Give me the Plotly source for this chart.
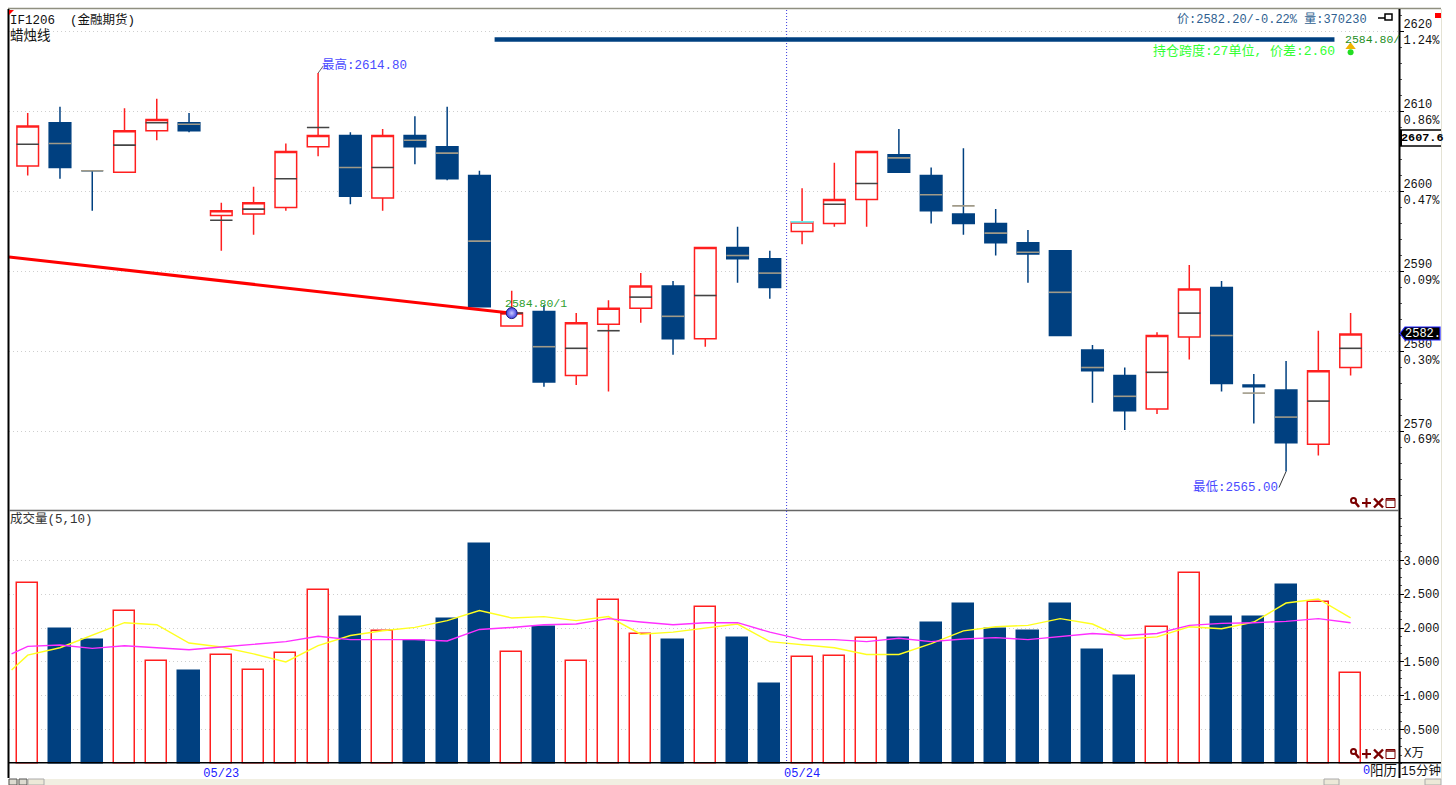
import plotly.graph_objects as go

idx = list(range(42))
opens = [2603.2,2608.6,2602.6,2602.4,2607.6,2608.6,2597.0,2597.2,2598.0,2605.6,2607.0,2599.2,2607.0,2605.6,2602.0,2583.2,2585.0,2577.0,2583.4,2585.4,2588.2,2581.6,2593.0,2591.6,2595.0,2596.0,2599.0,2604.6,2602.0,2597.2,2596.0,2593.6,2592.6,2580.2,2577.0,2572.8,2581.8,2588.0,2575.8,2575.2,2568.4,2578.0]
highs = [2609.8,2610.6,2602.6,2610.4,2611.6,2609.8,2598.6,2600.6,2606.0,2614.8,2607.4,2607.8,2609.4,2610.6,2602.6,2587.6,2585.8,2584.8,2586.4,2589.8,2588.8,2593.0,2595.6,2592.6,2600.4,2603.6,2605.0,2607.8,2603.0,2605.4,2597.8,2595.2,2592.6,2580.8,2578.0,2582.4,2590.8,2588.8,2577.2,2578.8,2582.6,2584.8]
lows = [2602.0,2601.6,2597.6,2602.4,2606.4,2607.4,2592.6,2594.6,2597.6,2604.4,2598.4,2597.6,2603.4,2601.4,2585.6,2583.2,2575.6,2575.8,2575.0,2583.6,2579.6,2580.6,2588.6,2586.6,2593.4,2595.6,2595.6,2602.4,2596.0,2594.6,2592.0,2588.6,2582.0,2573.6,2570.2,2572.2,2579.0,2575.0,2571.0,2565.0,2567.0,2577.0]
closes = [2608.2,2603.0,2602.6,2607.6,2609.0,2607.6,2597.6,2598.6,2605.0,2607.0,2599.4,2607.0,2605.6,2601.6,2585.6,2584.8,2576.2,2583.6,2585.4,2588.2,2581.6,2593.0,2591.6,2588.0,2596.2,2599.0,2605.0,2602.4,2597.6,2596.0,2593.6,2592.2,2582.0,2577.6,2572.6,2582.0,2587.8,2576.0,2575.6,2568.6,2577.6,2582.2]
mids = [2605.9,2606.0,2602.6,2605.8,2608.6,2608.4,2596.4,2597.8,2601.6,2608.0,2603.0,2603.0,2606.4,2604.8,2593.8,2584.8,2580.6,2580.4,2582.6,2586.8,2584.4,2587.0,2592.0,2589.8,2596.2,2598.4,2601.0,2604.2,2599.6,2598.2,2594.8,2592.4,2587.4,2578.0,2574.4,2577.4,2584.8,2582.0,2574.8,2571.8,2573.8,2580.4]
volumes = [2.66,1.98,1.83,2.26,1.52,1.36,1.61,1.38,1.63,2.56,2.16,1.96,1.81,2.13,3.24,1.65,2.01,1.52,2.42,1.92,1.82,2.31,1.86,1.18,1.58,1.59,1.85,1.86,2.07,2.35,1.98,1.95,2.35,1.67,1.29,2.02,2.82,2.17,2.16,2.63,2.39,1.34]
ma_x = [-0.5] + idx
ma5 = [1.38,1.60,1.71,1.90,2.08,2.05,1.78,1.72,1.62,1.50,1.74,1.89,1.96,2.01,2.11,2.26,2.15,2.17,2.11,2.17,1.91,1.94,2.00,2.06,1.80,1.75,1.71,1.61,1.61,1.77,1.96,2.02,2.04,2.14,2.06,1.84,1.87,2.02,1.99,2.09,2.37,2.43,2.15]
ma10 = [1.62,1.73,1.75,1.70,1.74,1.71,1.68,1.72,1.76,1.80,1.88,1.83,1.83,1.83,1.81,1.98,2.01,2.05,2.06,2.14,2.09,2.05,2.08,2.08,1.94,1.83,1.83,1.80,1.85,1.80,1.84,1.86,1.83,1.88,1.92,1.89,1.92,2.04,2.07,2.08,2.10,2.14,2.08]
price_ticks = [2570,2580,2590,2600,2610,2620]
price_labels = ["2570<br>0.69%","2580<br>0.30%","2590<br>0.09%","2600<br>0.47%","2610<br>0.86%","2620<br>1.24%"]
vol_ticks = [0.5,1.0,1.5,2.0,2.5,3.0]
vol_labels = ["0.500","1.000","1.500","2.000","2.500","3.000"]
date_ticks = [6,24]
date_labels = ["05/23","05/24"]

RED = "#ff1f1f"
BLUE = "#004080"
MONO = "Liberation Mono, Noto Sans CJK SC, monospace"
W, H = 1456, 785
px = lambda x: x / W
py = lambda y: 1 - y / H

rising = [c > o or (c == o and k != 2) for k, (o, c) in enumerate(zip(opens, closes))]
mid_colors = ["#444444" if r else "#a09a88" for r in rising]
mid_colors[24] = "#66f0f0"

fig = go.Figure()
fig.add_trace(go.Candlestick(
    x=idx, open=opens, high=highs, low=lows, close=closes, xaxis="x", yaxis="y",
    increasing=dict(line=dict(color=RED, width=1.5), fillcolor="white"),
    decreasing=dict(line=dict(color=BLUE, width=1.5), fillcolor=BLUE),
    whiskerwidth=0, showlegend=False))
fig.add_trace(go.Scatter(
    x=idx, y=mids, mode="markers", xaxis="x", yaxis="y", showlegend=False,
    marker=dict(symbol="line-ew", size=16, color=mid_colors, line=dict(width=1.6, color=mid_colors))))
fig.add_trace(go.Scatter(x=[-0.58, 15], y=[2591.8, 2584.8], mode="lines", xaxis="x", yaxis="y",
                         line=dict(color="#ff0000", width=3), showlegend=False))
fig.add_trace(go.Scatter(x=[15], y=[2584.8], mode="markers", xaxis="x", yaxis="y", showlegend=False,
                         marker=dict(size=11, color="#3c3ce0", line=dict(color="#20207a", width=1),
                                     gradient=dict(type="radial", color="#c8c8ff"))))
fig.add_trace(go.Scatter(x=[9, 9.16], y=[2614.8, 2615.7], mode="lines", xaxis="x", yaxis="y",
                         line=dict(color="#666666", width=1), showlegend=False))
fig.add_trace(go.Scatter(x=[39, 38.78], y=[2565.0, 2563.0], mode="lines", xaxis="x", yaxis="y",
                         line=dict(color="#333333", width=1), showlegend=False))
fig.add_trace(go.Scatter(x=[41], y=[2617.4], mode="markers", xaxis="x", yaxis="y", showlegend=False,
                         marker=dict(symbol="circle", size=6, color="#22dd22")))
fig.add_trace(go.Scatter(x=[41], y=[2618.1], mode="markers", xaxis="x", yaxis="y", showlegend=False,
                         marker=dict(symbol="triangle-up", size=9, color="#f0b400")))
fig.add_trace(go.Bar(
    x=idx, y=volumes, xaxis="x2", yaxis="y2", width=0.655, showlegend=False,
    marker=dict(color=["white" if r else BLUE for r in rising],
                line=dict(color=[RED if r else BLUE for r in rising], width=1.5))))
fig.add_trace(go.Scatter(x=ma_x, y=ma5, mode="lines", xaxis="x2", yaxis="y2", showlegend=False,
                         line=dict(color="#ffff20", width=1.4)))
fig.add_trace(go.Scatter(x=ma_x, y=ma10, mode="lines", xaxis="x2", yaxis="y2", showlegend=False,
                         line=dict(color="#ff30ff", width=1.4)))


def hline(x0, x1, y, color, width=1):
    return dict(type="line", xref="paper", yref="paper", x0=px(x0), x1=px(x1), y0=py(y), y1=py(y),
                line=dict(color=color, width=width))


def vline(x, y0, y1, color, width=1):
    return dict(type="line", xref="paper", yref="paper", x0=px(x), x1=px(x), y0=py(y0), y1=py(y1),
                line=dict(color=color, width=width))


def seg(x0, y0, x1, y1, color, width=1):
    return dict(type="line", xref="paper", yref="paper", x0=px(x0), x1=px(x1), y0=py(y0), y1=py(y1),
                line=dict(color=color, width=width))


def rect(x0, y0, x1, y1, fill, line=None, width=1):
    return dict(type="rect", xref="paper", yref="paper", x0=px(x0), x1=px(x1), y0=py(y0), y1=py(y1),
                fillcolor=fill, line=dict(color=line or fill, width=width if line else 0))


def tools(y):
    c = "#7a0000"
    return [
        dict(type="circle", xref="paper", yref="paper", x0=px(1351), x1=px(1356), y0=py(y - 5), y1=py(y),
             line=dict(color=c, width=2)),
        seg(1355, y - 1, 1359, y + 4, c, 2.5),
        seg(1362, y, 1371, y, c, 2), seg(1366.5, y - 5, 1366.5, y + 4.5, c, 2),
        seg(1374, y - 4.5, 1383, y + 4.5, c, 2.4), seg(1374, y + 4.5, 1383, y - 4.5, c, 2.4),
        rect(1386, y - 4.5, 1395, y + 4.5, "rgba(0,0,0,0)", c, 1), seg(1386, y - 3, 1395, y - 3, c, 1.5),
    ]


shapes = [
    rect(8, 779, 1441, 785, "#f1efe2"),
    rect(9, 779, 17, 785, "#dddbd0", "#555555"),
    rect(19, 779, 27, 785, "#dddbd0", "#555555"),
    rect(28, 779, 44, 785, "#ece9d8", "#aaaaaa"),
    rect(1324, 779, 1339, 785, "#ece9d8", "#aaaaaa"),
    rect(1425, 779, 1441, 785, "#ece9d8", "#aaaaaa"),
    hline(8, 1441, 8.5, "#8f8f80", 1.5),
    vline(8.5, 9, 778, "#000000", 2),
    vline(1399.5, 9, 778, "#000000", 2),
    vline(1441.5, 9, 779, "#e4e2d4", 1),
    hline(9, 1399, 510.5, "#666666", 1.5),
    hline(9, 1441, 762.7, "#000000", 1.5),
    dict(type="path", xref="paper", yref="paper",
         path=f"M {px(9)} {py(10)} L {px(14)} {py(10)} L {px(9)} {py(15)} Z", fillcolor="#ff0000",
         line=dict(width=0)),
    dict(type="line", xref="x", yref="paper", x0=23.52, x1=23.52, y0=py(10), y1=py(762),
         line=dict(color="#3c3ce0", width=1, dash="1px,2px")),
    dict(type="line", xref="x", yref="y", x0=14.47, x1=40.5, y0=2619, y1=2619,
         line=dict(color=BLUE, width=4.5)),
    rect(1435, 13, 1441, 18, "#ff0000"),
    seg(1378, 18, 1385, 18, "#000000", 1.5),
    rect(1385, 14, 1392, 20, "white", "#000000", 1.5),
    hline(1400, 1441, 130, "#000000", 1.5),
    hline(1400, 1441, 146, "#000000", 1.5),
    vline(1401, 130, 146, "#000000", 2),
    dict(type="path", xref="paper", yref="paper",
         path=(f"M {px(1400)} {py(333.5)} L {px(1405)} {py(327)} L {px(1440)} {py(327)} "
               f"L {px(1440)} {py(340)} L {px(1405)} {py(340)} Z"),
         fillcolor="#000000", line=dict(color="#2020ff", width=1.2)),
] + tools(503) + tools(754)


def txt(x, y, text, color="#000000", size=12, anchor="left", bold=False):
    t = f"<b>{text}</b>" if bold else text
    return dict(xref="paper", yref="paper", x=px(x), y=py(y), text=t, showarrow=False, xanchor=anchor,
                yanchor="middle", font=dict(family=MONO, size=size, color=color), borderpad=0, borderwidth=0)


annotations = [
    txt(10, 20, "IF1206&nbsp;&nbsp;(金融期货)", "#111111", 12.5),
    txt(10, 36, "蜡烛线", "#111111", 13.5),
    txt(322, 65, "最高:2614.80", "#4b4bff", 12.5),
    txt(1193, 487, "最低:2565.00", "#4b4bff", 12.5),
    txt(505, 303, "2584.80/1", "#2e9e2e", 11.5),
    txt(1367, 20, "价:2582.20/-0.22% 量:370230", "#2f5f90", 12, "right"),
    txt(1345, 40, "2584.80/", "#1f8f1f", 11.5),
    txt(1335, 51, "持仓跨度:27单位, 价差:2.60", "#33ff33", 13, "right"),
    txt(10, 519, "成交量(5,10)", "#333333", 12.5),
    txt(1404, 754, "X万", "#222222", 12.5),
    txt(1363, 771, "0", "#2020ff", 12),
    txt(1370, 771, "阳历", "#111111", 13.5),
    txt(1401, 771, "15分钟", "#111111", 12.5),
    txt(1401, 138, "2607.6", "#000000", 11.8, bold=True),
    txt(1405, 333.5, "2582.", "#ffffff", 12),
]

fig.update_layout(
    width=W, height=H, margin=dict(l=0, r=0, t=0, b=0),
    paper_bgcolor="white", plot_bgcolor="rgba(0,0,0,0)", showlegend=False, bargap=0,
    boxgap=0.33, boxgroupgap=0,
    shapes=shapes, annotations=annotations, hovermode=False,
    xaxis=dict(domain=[px(9), px(1399)], range=[-0.58, 42.5], visible=False, rangeslider=dict(visible=False),
               anchor="y"),
    xaxis2=dict(domain=[px(9), px(1399)], range=[-0.58, 42.5], anchor="y2", showgrid=False, zeroline=False,
                showline=False, ticks="", tickmode="array", tickvals=date_ticks, ticktext=date_labels,
                tickfont=dict(family=MONO, size=12, color="#2020ff")),
    yaxis=dict(domain=[py(510.5), py(10)], range=[2560.125, 2622.69], side="right", anchor="x",
               tickmode="array", tickvals=price_ticks, ticktext=price_labels,
               tickfont=dict(family=MONO, size=12, color="#111111"), ticklabelstandoff=-3,
               ticks="outside", ticklen=4, tickcolor="#000000", showline=False, zeroline=False,
               showgrid=True, gridcolor="#cfcfcf", griddash="1px,3px", gridwidth=1,
               minor=dict(tickmode="linear", tick0=2560, dtick=2, ticks="outside", ticklen=2,
                          tickcolor="#555555", showgrid=False)),
    yaxis2=dict(domain=[py(763.5), py(512)], range=[0, 3.715], side="right", anchor="x2",
                tickmode="array", tickvals=vol_ticks, ticktext=vol_labels,
                tickfont=dict(family=MONO, size=12, color="#111111"), ticklabelstandoff=-3,
                ticks="outside", ticklen=4, tickcolor="#000000", showline=False, zeroline=False,
                showgrid=True, gridcolor="#cfcfcf", griddash="1px,3px", gridwidth=1,
                minor=dict(tickmode="linear", tick0=0, dtick=0.125, ticks="outside", ticklen=2,
                           tickcolor="#555555", showgrid=False)),
)

fig.write_html("out.html", config=dict(displayModeBar=False),
               post_script="document.body.style.margin='0';document.body.style.overflow='hidden';")
